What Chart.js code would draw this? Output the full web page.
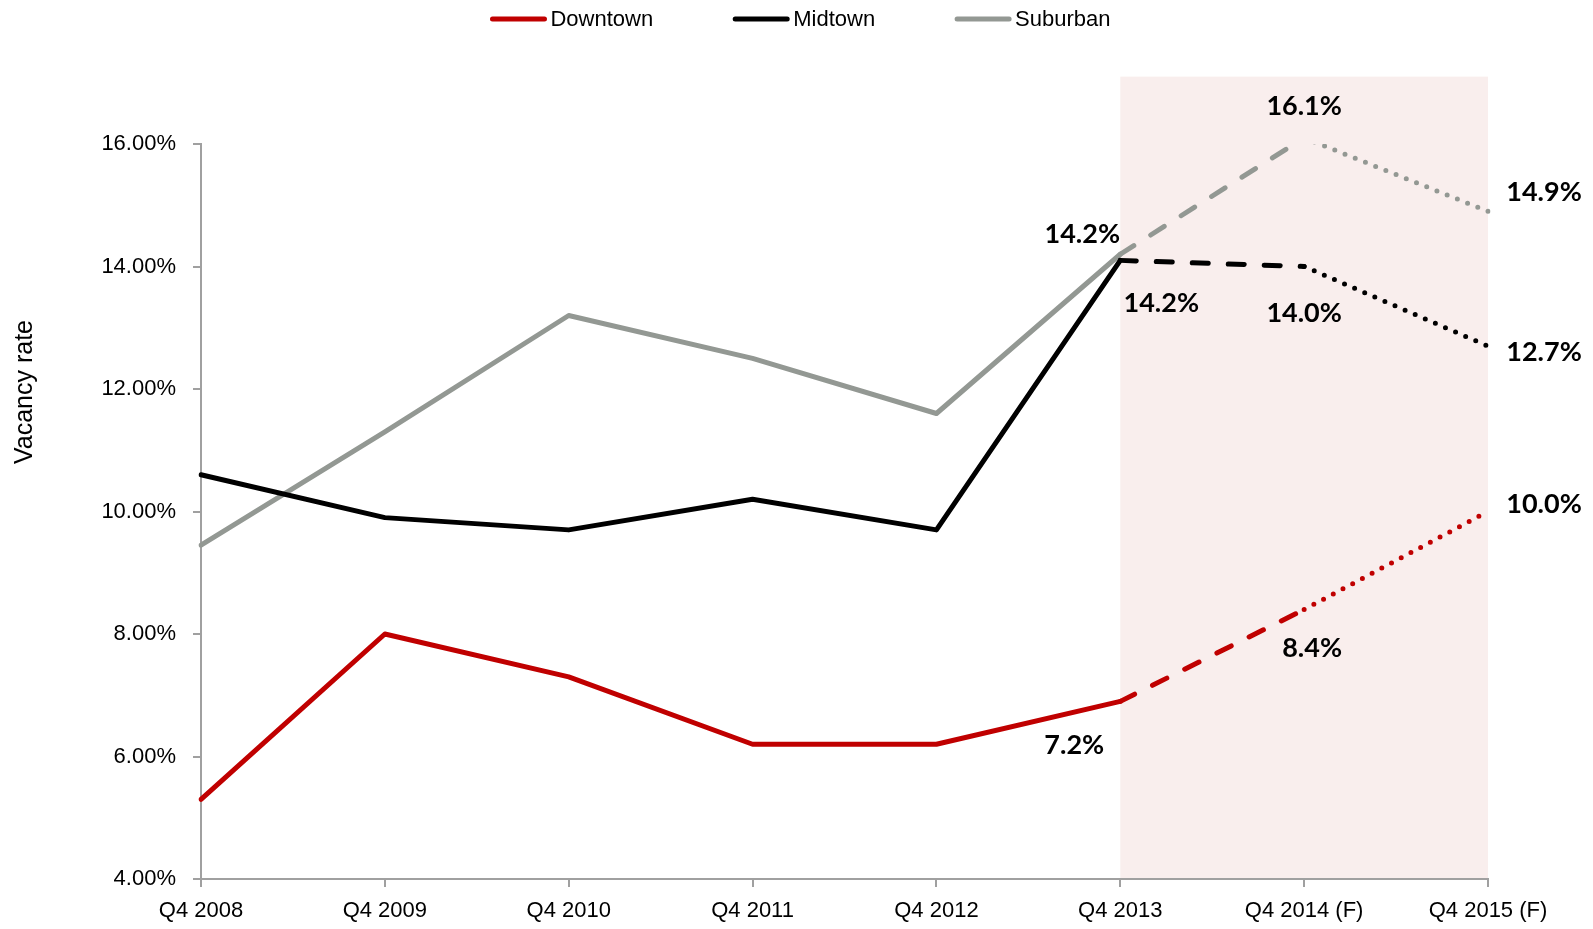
<!DOCTYPE html>
<html>
<head>
<meta charset="utf-8">
<title>Vacancy rate</title>
<script src="https://cdn.jsdelivr.net/npm/chart.js@4.4.1/dist/chart.umd.min.js"></script>
<style>
  html, body { margin: 0; padding: 0; background: #fff; }
  #contenedor { width: 1593px; height: 929px; position: relative; }
</style>
</head>
<body>
<div id="contenedor"><canvas id="lineChart"></canvas></div>
<script>
var categorias = ['Q4 2008', 'Q4 2009', 'Q4 2010', 'Q4 2011', 'Q4 2012', 'Q4 2013', 'Q4 2014 (F)', 'Q4 2015 (F)'];
var downtown = [5.3, 8.0, 7.3, 6.2, 6.2, 6.9, 8.4, 10.0];
var midtown  = [10.6, 9.9, 9.7, 10.2, 9.7, 14.1, 14.0, 12.7];
var suburban = [9.45, 11.3, 13.2, 12.5, 11.6, 14.2, 16.1, 14.9];
var etiquetasDowntown = [null, null, null, null, null, '7.2%', '8.4%', '10.0%'];
var etiquetasMidtown  = [null, null, null, null, null, '14.2%', '14.0%', '12.7%'];
var etiquetasSuburban = [null, null, null, null, null, '14.2%', '16.1%', '14.9%'];
var ticksY = [4, 6, 8, 10, 12, 14, 16];
var inicioPronostico = 5;

var fuenteEje = '"Liberation Sans Narrow", "Liberation Sans", Arial, sans-serif';

function estiloSegmento(ctx)
{
  if (ctx.p0DataIndex === inicioPronostico) return [16, 20];
  if (ctx.p0DataIndex > inicioPronostico) return [0, 11];
  return undefined;
}

var sombraPlugin = {
  id: 'sombra',
  beforeDraw: function(chart, args, opts) {
    var x = chart.scales.x, y = chart.scales.y, ctx = chart.ctx;
    var x0 = x.getPixelForValue(opts.desde);
    var x1 = x.getPixelForValue(opts.hasta);
    var top = y.getPixelForValue(opts.techo);
    ctx.save();
    ctx.fillStyle = opts.color;
    ctx.fillRect(x0, top, x1 - x0, chart.chartArea.bottom - top);
    ctx.restore();
  }
};

var etiquetasPlugin = {
  id: 'etiquetas',
  afterDatasetsDraw: function(chart, args, opts) {
    var ctx = chart.ctx;
    ctx.save();
    ctx.font = opts.font;
    ctx.fillStyle = opts.color;
    ctx.textAlign = 'center';
    ctx.textBaseline = 'middle';
    chart.data.datasets.forEach(function(ds, d) {
      var meta = chart.getDatasetMeta(d);
      ds.etiquetas.forEach(function(txt, i) {
        if (!txt) return;
        var p = meta.data[i];
        var off = opts.offsets[d][i - inicioPronostico];
        ctx.fillText(txt, p.x + off[0], p.y + off[1]);
      });
    });
    ctx.restore();
  }
};

var leyendaPlugin = {
  id: 'leyenda',
  afterDraw: function(chart, args, opts) {
    var ctx = chart.ctx;
    ctx.save();
    ctx.font = opts.font;
    var items = chart.data.datasets.map(function(ds) {
      return { text: ds.label, color: ds.borderColor, w: ctx.measureText(ds.label).width };
    });
    var total = 0;
    items.forEach(function(it, i) {
      total += opts.boxWidth + opts.gap + it.w + (i < items.length - 1 ? opts.spacing : 0);
    });
    var x = (chart.width - total) / 2 + opts.shift;
    ctx.textBaseline = 'middle';
    ctx.textAlign = 'left';
    items.forEach(function(it) {
      ctx.strokeStyle = it.color;
      ctx.lineWidth = 5;
      ctx.lineCap = 'round';
      ctx.beginPath();
      ctx.moveTo(x + 2, opts.y);
      ctx.lineTo(x + opts.boxWidth - 2, opts.y);
      ctx.stroke();
      ctx.fillStyle = '#000';
      ctx.fillText(it.text, x + opts.boxWidth + opts.gap, opts.y + 1);
      x += opts.boxWidth + opts.gap + it.w + opts.spacing;
    });
    ctx.restore();
  }
};

var tituloYPlugin = {
  id: 'tituloY',
  afterDraw: function(chart, args, opts) {
    var ctx = chart.ctx;
    ctx.save();
    ctx.translate(opts.x, opts.y);
    ctx.rotate(-Math.PI / 2);
    ctx.font = opts.font;
    ctx.fillStyle = '#000';
    ctx.textAlign = 'center';
    ctx.textBaseline = 'middle';
    ctx.fillText(opts.text, 0, 0);
    ctx.restore();
  }
};

function dataset(label, color, data, etiquetas)
{
  return {
    label: label,
    data: data,
    etiquetas: etiquetas,
    borderColor: color,
    backgroundColor: color,
    borderWidth: 5,
    borderCapStyle: 'round',
    borderJoinStyle: 'round',
    pointRadius: 0,
    pointHoverRadius: 0,
    tension: 0,
    fill: false,
    segment: { borderDash: estiloSegmento }
  };
}

var lineChartData = {
  labels: categorias,
  datasets: [
    dataset('Downtown', '#c00000', downtown, etiquetasDowntown),
    dataset('Midtown', '#000000', midtown, etiquetasMidtown),
    dataset('Suburban', '#939893', suburban, etiquetasSuburban)
  ]
};

var lineChartOptions = {
  responsive: true,
  maintainAspectRatio: false,
  animation: false,
  layout: { padding: { top: 144, right: 105, left: 0, bottom: 0 } },
  plugins: {
    legend: { display: false },
    tooltip: { enabled: false },
    sombra: { desde: inicioPronostico, hasta: categorias.length - 1, techo: 17.1, color: '#f9eeed' },
    etiquetas: {
      font: 'bold 27px Lato, "Open Sans", sans-serif',
      color: '#000',
      offsets: [
        [[-46, 44], [8, 39], [56, -7]],
        [[41, 43], [0, 47], [56, 6]],
        [[-38, -20], [0, -32], [56, -19]]
      ]
    },
    leyenda: { font: '22px ' + fuenteEje, boxWidth: 56, gap: 4, spacing: 80, y: 19, shift: 4 },
    tituloY: { text: 'Vacancy rate', font: '25px "Liberation Sans", Arial, sans-serif', x: 25, y: 392 }
  },
  scales: {
    x: {
      offset: false,
      afterFit: function(scale) { scale.height = 50; },
      grid: { drawOnChartArea: false, drawTicks: true, tickLength: 8, color: '#a0a0a0', lineWidth: 2 },
      border: { color: '#a0a0a0', width: 2 },
      ticks: { color: '#000', font: { family: fuenteEje, size: 22 }, padding: 11, maxRotation: 0, autoSkip: false }
    },
    y: {
      min: 4,
      max: 16,
      afterFit: function(scale) { scale.width = 201; },
      afterBuildTicks: function(scale) {
        scale.ticks = ticksY.map(function(v) { return { value: v }; });
      },
      grid: { drawOnChartArea: false, drawTicks: true, tickLength: 8, color: '#a0a0a0', lineWidth: 2 },
      border: { color: '#a0a0a0', width: 2 },
      ticks: {
        color: '#000',
        font: { family: fuenteEje, size: 22 },
        padding: 17,
        callback: function(v) { return Number(v).toFixed(2) + '%'; }
      }
    }
  }
};

var lineChart = new Chart(document.getElementById('lineChart').getContext('2d'), {
  type: 'line',
  data: lineChartData,
  options: lineChartOptions,
  plugins: [sombraPlugin, etiquetasPlugin, leyendaPlugin, tituloYPlugin]
});
</script>
</body>
</html>
